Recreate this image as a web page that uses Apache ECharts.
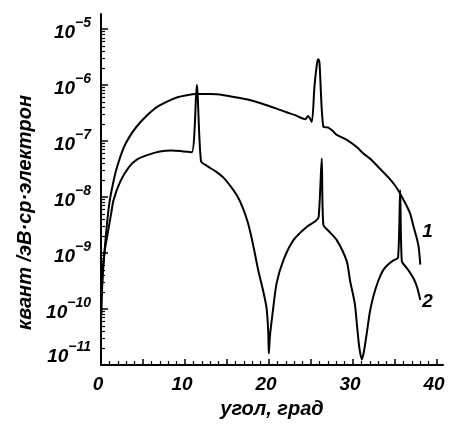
<!DOCTYPE html>
<html>
<head>
<meta charset="utf-8">
<title>chart</title>
<script src="https://cdn.jsdelivr.net/npm/echarts@6/dist/echarts.min.js"></script>
<style>
  html, body { margin: 0; padding: 0; background: #fff; }
  #chart { width: 458px; height: 424px; }
</style>
</head>
<body>
<div id="chart"></div>
<script>
// кривая 1
const angle1 = [0.05, 0.2, 0.4, 0.7, 1.0, 1.4, 1.9, 2.7, 3.4, 4.25, 5.4, 6.6, 7.8, 9.0, 10.2, 11.4, 13.0,
  14.6, 16.2, 17.7, 19.1, 20.9, 22.0, 23.1, 24.3, 24.65, 25.08, 25.4, 25.7, 25.87, 26.0, 26.46, 27.06,
  27.65, 28.06, 29.25, 30.4, 31.23, 32.2, 33.2, 34.2, 35.2, 36.2, 36.8, 37.2, 37.6, 37.8, 38.0];
const curve1 = [1.6e-10, 4.0e-10, 1.0e-9, 3.2e-9, 7.9e-9, 1.66e-8, 3.4e-8, 7.6e-8, 1.2e-7, 1.82e-7, 2.8e-7,
  4.0e-7, 5.0e-7, 6.0e-7, 6.6e-7, 6.9e-7, 6.9e-7, 6.6e-7, 6.0e-7, 5.4e-7, 4.7e-7, 3.8e-7, 3.3e-7, 2.9e-7,
  2.45e-7, 2.8e-7, 2.2e-7, 9.3e-7, 2.4e-6, 2.9e-6, 2.5e-6, 1.8e-7, 1.74e-7, 1.48e-7, 1.29e-7, 1.05e-7,
  7.9e-8, 6.0e-8, 4.6e-8, 3.2e-8, 2.24e-8, 1.45e-8, 7.8e-9, 5.0e-9, 2.95e-9, 1.78e-9, 1.29e-9, 6.2e-10];

// кривая 2
const angle2 = [0.05, 0.2, 0.45, 0.8, 1.2, 1.5, 2.3, 3.3, 4.3, 5.5, 7.0, 8.4, 9.6, 10.8, 11.4, 11.9, 12.6,
  13.6, 14.6, 15.5, 16.2, 16.9, 17.5, 18.1, 18.7, 19.3, 19.7, 19.9, 19.97, 20.1, 20.4, 20.9, 21.7, 22.9,
  24.5, 25.5, 25.9, 26.27, 26.46, 27.06, 28.06, 29.25, 29.64, 30.2, 30.5, 30.75, 31.04, 31.3, 31.63, 32.0,
  32.4, 33.0, 33.6, 34.2, 34.8, 35.35, 35.6, 35.8, 36.3, 36.8, 37.2, 37.6, 38.0];
const curve2 = [7.9e-11, 4.5e-10, 1.12e-9, 2.24e-9, 5.0e-9, 8.9e-9, 1.9e-8, 3.4e-8, 4.7e-8, 5.6e-8, 6.5e-8,
  6.8e-8, 6.6e-8, 6.3e-8, 1.0e-6, 4.4e-8, 3.6e-8, 2.9e-8, 2.2e-8, 1.5e-8, 1.05e-8, 6.3e-9, 3.4e-9, 1.41e-9,
  5.0e-10, 2.1e-10, 1.05e-10, 4.0e-11, 1.6e-11, 3.2e-11, 7.9e-11, 2.9e-10, 7.4e-10, 1.7e-9, 2.95e-9, 3.7e-9,
  4.4e-9, 4.9e-8, 3.2e-9, 2.5e-9, 1.7e-9, 7.1e-10, 3.2e-10, 1.26e-10, 4.5e-11, 2.0e-11, 1.26e-11, 1.78e-11,
  3.7e-11, 8.9e-11, 1.66e-10, 3.2e-10, 5.0e-10, 6.3e-10, 7.4e-10, 8.3e-10, 1.32e-8, 7.1e-10, 5.6e-10,
  4.4e-10, 3.5e-10, 2.5e-10, 1.45e-10];

const curveNames = ['1', '2'];
const xLabels = [0, 10, 20, 30, 40];
const xTicks = [0, 5, 10, 15, 20, 25, 30, 35, 40];
const decades = [1e-11, 1e-10, 1e-9, 1e-8, 1e-7, 1e-6, 1e-5];

const yMin = 1e-11;
const yMax = 1.86e-5;

// промежуточные деления логарифмической шкалы
const minorTicks = [];
decades.forEach(d => {
  for (let m = 2; m <= 9; m++) {
    if (m * d < yMax) minorTicks.push(m * d);
  }
});

const font = 'Liberation Sans';
const txt = { fontFamily: font, fontStyle: 'italic', fontWeight: 'bold', color: '#000' };

const chart = echarts.init(document.getElementById('chart'));

const option = {
  backgroundColor: '#fff',
  animation: false,
  grid: { left: 101, right: 15, top: 14, bottom: 59 },
  xAxis: {
    type: 'value',
    min: 0,
    max: 40.7,
    interval: 5,
    axisLine: { lineStyle: { color: '#000', width: 2 } },
    axisTick: { inside: true, length: 6, customValues: xTicks, lineStyle: { color: '#000', width: 1.5 } },
    minorTick: { show: true, splitNumber: 5, length: 4, lineStyle: { color: '#000', width: 1.2 } },
    splitLine: { show: false },
    axisLabel: { customValues: xLabels, margin: 10, fontSize: 19, padding: [0, 6, 0, 0], ...txt },
    name: 'угол, град',
    nameLocation: 'middle',
    nameGap: 34,
    nameTextStyle: { fontSize: 20, ...txt }
  },
  yAxis: [
    {
      type: 'log',
      logBase: 10,
      min: yMin,
      max: yMax,
      axisLine: { show: true, lineStyle: { color: '#000', width: 2 } },
      axisTick: { show: true, inside: true, length: 7, customValues: decades, lineStyle: { color: '#000', width: 1.5 } },
      splitLine: { show: false },
      axisLabel: {
        customValues: decades,
        margin: 10,
        formatter: v => {
          const n = Math.round(-Math.log10(v));
          // нижняя подпись приподнята над осью абсцисс
          return n === 11 ? '{bl|10}{sl|−' + n + '}' : '{b|10}{s|−' + n + '}';
        },
        rich: {
          b: { fontSize: 19, verticalAlign: 'bottom', lineHeight: 26, ...txt },
          s: { fontSize: 14, verticalAlign: 'top', ...txt },
          bl: { fontSize: 19, verticalAlign: 'middle', lineHeight: 26, padding: [0, 0, 16, 0], ...txt },
          sl: { fontSize: 14, verticalAlign: 'middle', padding: [0, 0, 36, 0], ...txt }
        }
      },
      name: 'квант /эВ·ср·электрон',
      nameLocation: 'middle',
      nameRotate: 90,
      nameGap: 63,
      nameTextStyle: { fontSize: 20, padding: [0, 46, 0, 0], ...txt }
    },
    {
      type: 'log',
      logBase: 10,
      min: yMin,
      max: yMax,
      position: 'left',
      axisLine: { show: false },
      axisTick: { show: true, inside: true, length: 4, customValues: minorTicks, lineStyle: { color: '#000', width: 1.2 } },
      splitLine: { show: false },
      axisLabel: { show: false }
    }
  ],
  series: [
    {
      name: curveNames[0],
      type: 'line',
      data: angle1.map((a, i) => [a, curve1[i]]),
      showSymbol: false,
      smooth: 0.25,
      lineStyle: { color: '#000', width: 2 },
      endLabel: { show: true, formatter: curveNames[0], distance: 0, offset: [2, -33], fontSize: 19, ...txt }
    },
    {
      name: curveNames[1],
      type: 'line',
      data: angle2.map((a, i) => [a, curve2[i]]),
      showSymbol: false,
      smooth: 0.25,
      lineStyle: { color: '#000', width: 2 },
      endLabel: { show: true, formatter: curveNames[1], distance: 0, offset: [2, 2], fontSize: 19, ...txt }
    }
  ]
};

chart.setOption(option);
</script>
</body>
</html>
